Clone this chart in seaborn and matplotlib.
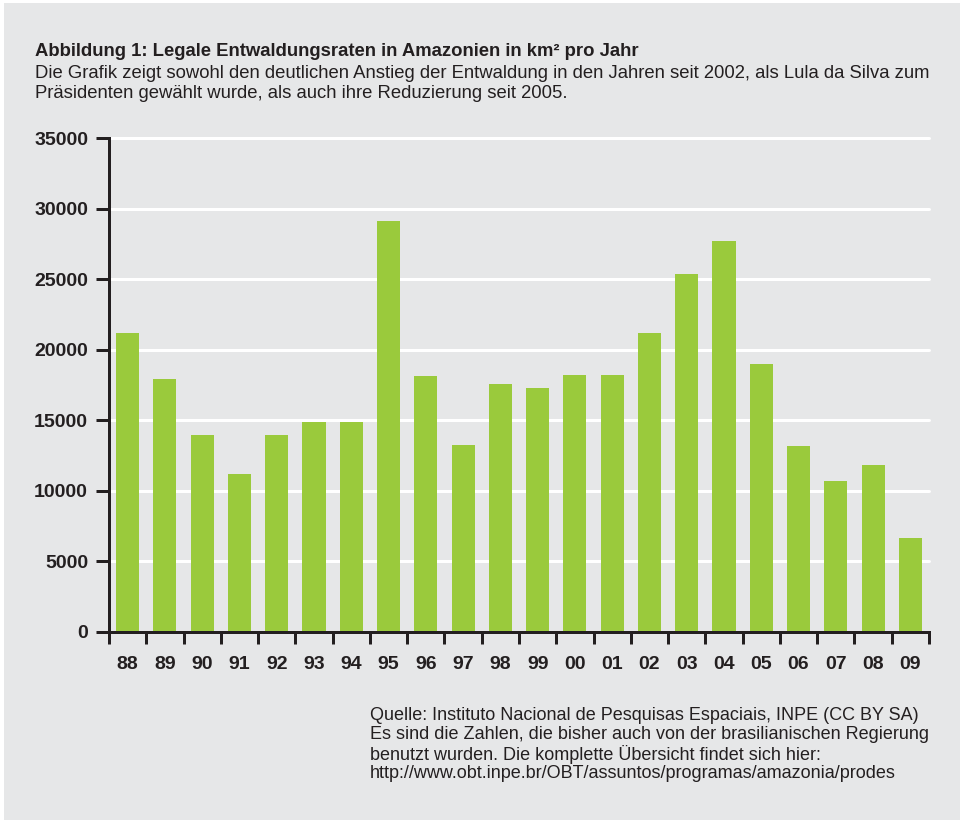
import matplotlib
matplotlib.use("Agg")
import matplotlib.pyplot as plt
import seaborn as sns
import pandas as pd
import numpy as np
from matplotlib.patches import Rectangle

# --- Data ---
years = ['88', '89', '90', '91', '92', '93', '94', '95', '96', '97', '98',
         '99', '00', '01', '02', '03', '04', '05', '06', '07', '08', '09']
rates = [21150, 17900, 13950, 11170, 13950, 14896, 14896, 29100, 18161, 13227, 17600,
         17259, 18200, 18200, 21150, 25396, 27700, 19014, 13150, 10670, 11800, 6640]
y_ticks = [0, 5000, 10000, 15000, 20000, 25000, 30000, 35000]

title = 'Abbildung 1: Legale Entwaldungsraten in Amazonien in km² pro Jahr'
subtitle_lines = [
    'Die Grafik zeigt sowohl den deutlichen Anstieg der Entwaldung in den Jahren seit 2002, als Lula da Silva zum',
    'Präsidenten gewählt wurde, als auch ihre Reduzierung seit 2005.',
]
source_lines = [
    'Quelle: Instituto Nacional de Pesquisas Espaciais, INPE (CC BY SA)',
    'Es sind die Zahlen, die bisher auch von der brasilianischen Regierung',
    'benutzt wurden. Die komplette Übersicht findet sich hier:',
    'http://www.obt.inpe.br/OBT/assuntos/programas/amazonia/prodes',
]

# --- Style ---
bg = '#e6e7e8'
green = '#9aca3c'
dark = '#231f20'
px = 72 / 100  # one pixel in points

sns.set_style('white')
plt.rcParams['font.family'] = ['Liberation Sans', 'DejaVu Sans']

fig = plt.figure(figsize=(9.64, 8.23), dpi=100)
fig.patch.set_facecolor('white')
fig.patches.append(Rectangle((0.004, 0.004), 0.992, 0.992, transform=fig.transFigure,
                             facecolor=bg, edgecolor='none', zorder=-10))

ax = fig.add_axes([0.1131, 0.2321, 0.8506, 0.6002])
ax.set_facecolor(bg)

df = pd.DataFrame({'Jahr': years, 'Rate': rates})
sns.barplot(data=df, x='Jahr', y='Rate', color=green, saturation=1,
            width=0.62, linewidth=0, ax=ax, zorder=3)

ax.set_xlim(-0.5, len(years) - 0.5)
ax.set_ylim(0, 35000)
ax.set_xlabel('')
ax.set_ylabel('')

# grid
ax.set_axisbelow(True)
ax.set_yticks(y_ticks)
ax.yaxis.grid(True, color='white', lw=3 * px)
for gl in ax.yaxis.get_gridlines():
    gl.set_clip_on(False)

# spines
sns.despine(ax=ax)
for s in ['left', 'bottom']:
    ax.spines[s].set_color(dark)
    ax.spines[s].set_linewidth(3 * px)
    ax.spines[s].set_zorder(5)

# y ticks
ax.set_yticklabels([str(v) for v in y_ticks], fontweight='bold', fontsize=14, color=dark)
ax.tick_params(axis='y', left=True, length=13 * px, width=3 * px, color=dark, pad=8 * px)

# x ticks: labels centred on bars, tick marks between bars
ax.set_xticks(range(len(years)))
ax.set_xticklabels(years, fontweight='bold', fontsize=14, color=dark)
ax.set_xticks(np.arange(-0.5, len(years), 1), minor=True)
ax.tick_params(axis='x', which='major', bottom=True, length=0, pad=17)
ax.tick_params(axis='x', which='minor', bottom=True, length=12 * px, width=3 * px, color=dark)

# --- Texts ---
fig.text(35 / 964, 1 - 52 / 823, title, fontsize=13.3, fontweight='bold',
         color=dark, va='center', ha='left')
for i, line in enumerate(subtitle_lines):
    fig.text(35 / 964, 1 - (73 + 20 * i) / 823, line, fontsize=13.3,
             color=dark, va='center', ha='left')
for i, line in enumerate(source_lines):
    fig.text(370 / 964, 1 - (715 + 19.5 * i) / 823, line, fontsize=13,
             color=dark, va='center', ha='left')

fig.savefig('out.png', dpi=100, facecolor=fig.get_facecolor())
